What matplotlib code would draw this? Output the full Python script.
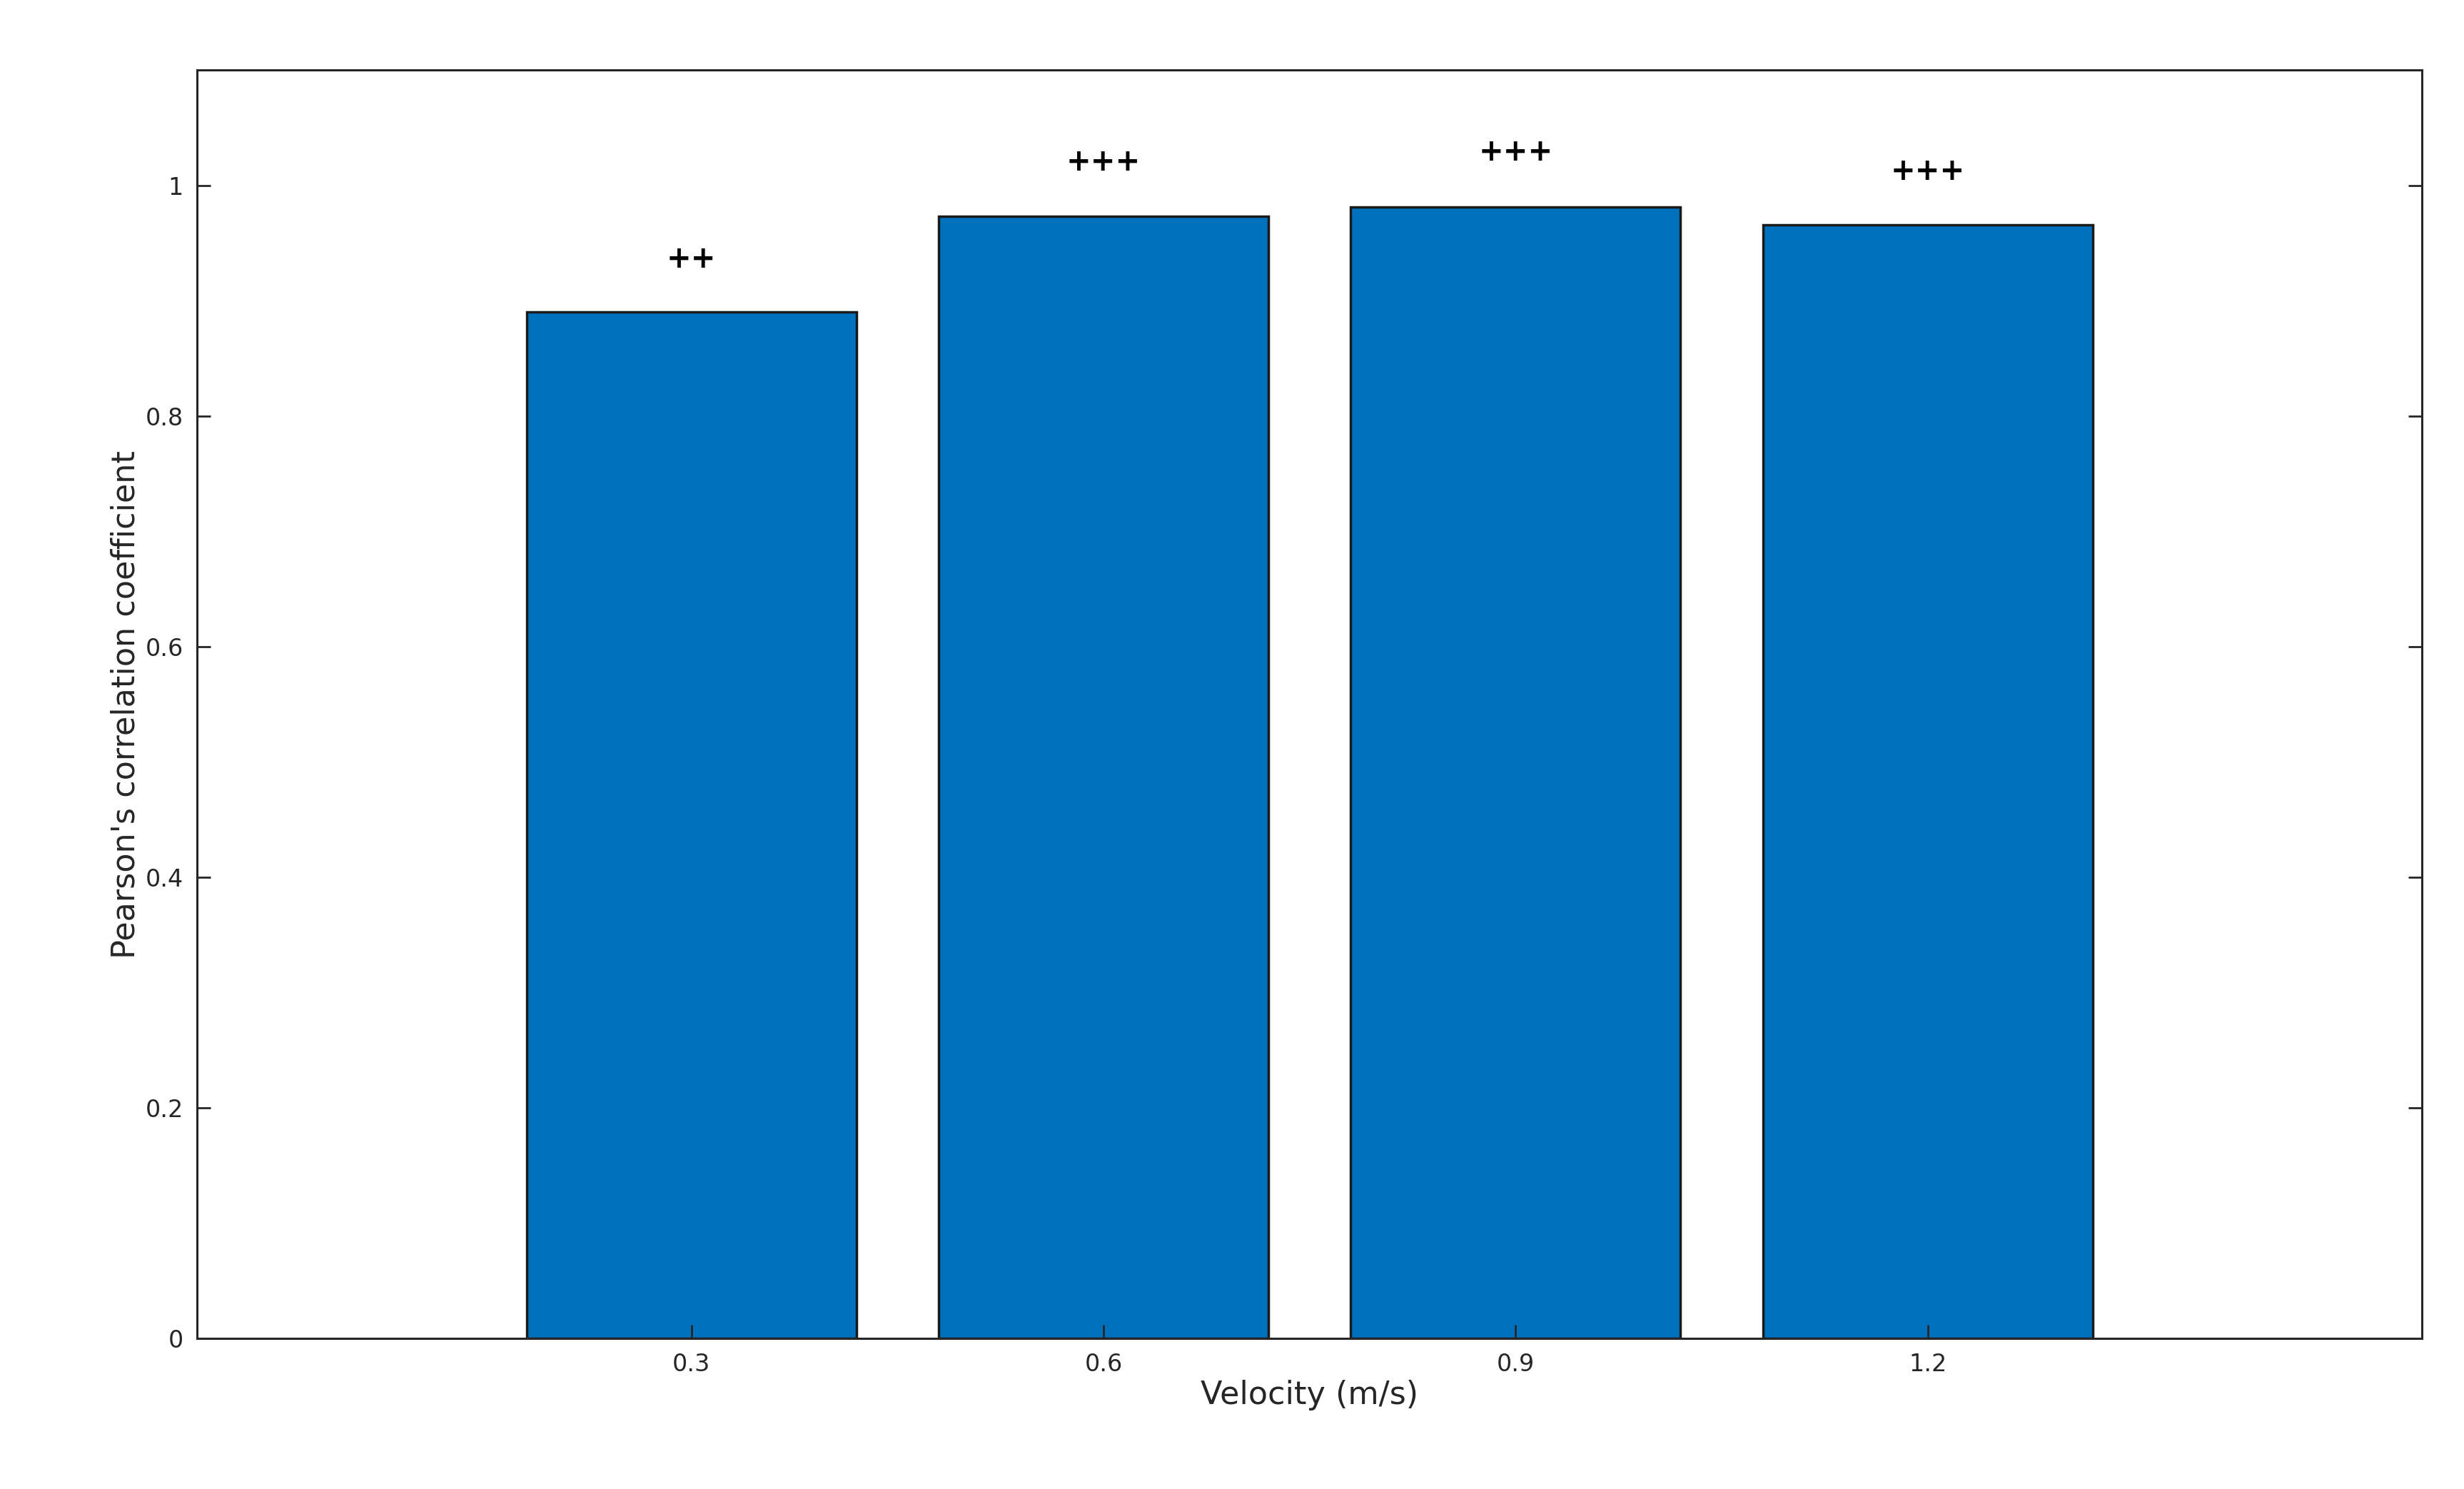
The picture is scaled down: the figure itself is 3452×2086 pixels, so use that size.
import matplotlib
matplotlib.use("Agg")
import matplotlib.pyplot as plt

categories = ["0.3", "0.6", "0.9", "1.2"]
values = [0.890, 0.973, 0.981, 0.966]
marks = ["++", "+++", "+++", "+++"]
mark_y = [0.936, 1.020, 1.029, 1.012]

fig = plt.figure(figsize=(34.52, 20.86), dpi=100)
ax = fig.add_axes([0.080, 0.101, 0.903, 0.852])
pos = list(range(1, len(categories) + 1))
ax.bar(pos, values, width=0.8, color="#0072BD", edgecolor="#1a1a1a", linewidth=2.5)
for p, m, y in zip(pos, marks, mark_y):
    ax.text(p, y, m, ha="center", va="center", fontsize=30, fontweight="bold")
ax.set_xlim(-0.2, 5.2)
ax.set_ylim(0, 1.1)
ax.set_xticks(pos)
ax.set_xticklabels(categories)
ax.set_yticks([0, 0.2, 0.4, 0.6, 0.8, 1.0])
ax.set_yticklabels(["0", "0.2", "0.4", "0.6", "0.8", "1"])
ax.tick_params(direction="in", length=14, width=2, labelsize=24, colors="#262626",
               right=True, pad=14)
for s in ax.spines.values():
    s.set_linewidth(2.2)
    s.set_color("#262626")
ax.set_xlabel("Velocity (m/s)", fontsize=32, color="#262626")
ax.set_ylabel("Pearson's correlation coefficient", fontsize=32, color="#262626")
fig.savefig("out.png", dpi=100)
